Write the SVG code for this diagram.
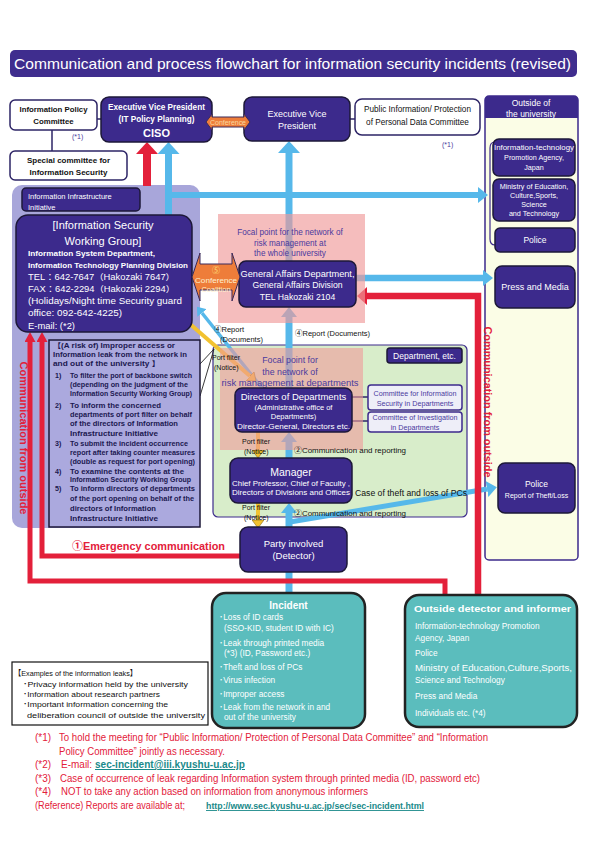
<svg xmlns="http://www.w3.org/2000/svg" width="595" height="842" viewBox="0 0 595 842" font-family="'Liberation Sans','Noto Sans CJK JP',sans-serif">
<style>
.n{fill:#3c2a8c;stroke:#1d1838;stroke-width:1.5}
.wb{fill:#fff;stroke:#2d2466;stroke-width:1.5}
.tl{fill:#5bbdbd;stroke:#222;stroke-width:2.5}
.w{fill:#fff}
.k{fill:#111}
.pu{fill:#4a3a9e}
.r{fill:#e3203a}
.b{font-weight:bold}
.m{text-anchor:middle}
.ln{stroke:#2d2466;stroke-width:1.5;fill:none}
.bl{stroke:#56b8ea;fill:none}
.rd{stroke:#e3203a;fill:none}
.ye{stroke:#f2c230;fill:none;stroke-width:4}
.rk{fill:#1b1850;font-weight:bold;font-size:7.1px}
.og{fill:#ee7d3a;stroke:#3a2a5a;stroke-width:1}
</style>
<defs>
<marker id="hB" viewBox="0 0 12 22" refX="0" refY="11" markerWidth="12" markerHeight="22" markerUnits="userSpaceOnUse" orient="auto"><path d="M0,0 L12,11 L0,22 Z" fill="#56b8ea"/></marker>
<marker id="hR" viewBox="0 0 12 22" refX="0" refY="11" markerWidth="12" markerHeight="22" markerUnits="userSpaceOnUse" orient="auto"><path d="M0,0 L12,11 L0,22 Z" fill="#e3203a"/></marker>
<marker id="hb" viewBox="0 0 10 16" refX="0" refY="8" markerWidth="10" markerHeight="16" markerUnits="userSpaceOnUse" orient="auto"><path d="M0,0 L10,8 L0,16 Z" fill="#56b8ea"/></marker>
<marker id="hbs" viewBox="0 0 8 12" refX="0" refY="6" markerWidth="8" markerHeight="12" markerUnits="userSpaceOnUse" orient="auto"><path d="M0,0 L8,6 L0,12 Z" fill="#56b8ea"/></marker>
<marker id="hr" viewBox="0 0 10 18" refX="0" refY="9" markerWidth="10" markerHeight="18" markerUnits="userSpaceOnUse" orient="auto"><path d="M0,0 L10,9 L0,18 Z" fill="#e3203a"/></marker>
<marker id="hrs" viewBox="0 0 10 11" refX="0" refY="5.5" markerWidth="10" markerHeight="11" markerUnits="userSpaceOnUse" orient="auto"><path d="M0,0 L10,5.5 L0,11 Z" fill="#e3203a"/></marker>
<marker id="hy" viewBox="0 0 8 12" refX="0" refY="6" markerWidth="8" markerHeight="12" markerUnits="userSpaceOnUse" orient="auto"><path d="M0,0 L8,6 L0,12 Z" fill="#f2c230" stroke="#8a6a10" stroke-width="0.6"/></marker>
<clipPath id="rc"><rect x="49" y="340" width="151" height="186"/></clipPath>
</defs>

<!-- title -->
<rect x="10" y="50" width="567" height="27" rx="5" fill="#3f2d8e"/>
<text x="14" y="69" font-size="15" class="w" textLength="557" lengthAdjust="spacingAndGlyphs">Communication and process flowchart for information security incidents (revised)</text>

<!-- regions -->
<g id="region-infra">
<rect x="12" y="185" width="188" height="343" rx="10" fill="#a8a6da"/>
</g>
<g id="region-dept">
<rect x="213" y="345" width="254" height="172" rx="5" fill="#d8edca" stroke="#3c2a8c" stroke-width="1.2"/>
</g>
<g id="region-outside">
<rect x="485" y="96" width="93" height="464" rx="4" fill="#fbfde6" stroke="#3c2a8c" stroke-width="1.5"/>
<path d="M485,118 V100 Q485,96 489,96 H574 Q578,96 578,100 V118 Z" fill="#3c2a8c"/>
<text x="531" y="106" font-size="8.5" class="w m">Outside of</text>
<text x="531" y="116.5" font-size="8.5" class="w m">the university</text>
<path d="M495,142 Q490,142 490,148 L490,239 Q490,245 495,245" stroke="#3c2a8c" stroke-width="1.2" fill="none"/>
</g>

<!-- connectors -->
<g id="connectors">
<path d="M97,119 H101" class="ln"/>
<path d="M52,130 V151" class="ln"/>
<path d="M350,119 H355" class="ln"/>
<path d="M352,397 H368" class="ln"/>
<path d="M352,421 H368" class="ln"/>
<path d="M200,364 L214,349 L200,396" stroke="#222" stroke-width="0.9" fill="none"/>
<path d="M147,186 V154" class="rd" stroke-width="8" marker-end="url(#hR)"/>
<path d="M168.5,215 V154" class="bl" stroke-width="7" marker-end="url(#hB)"/>
<path d="M168,195 H478" class="bl" stroke-width="6" marker-end="url(#hb)"/>
<path d="M289,261 V153" class="bl" stroke-width="7" marker-end="url(#hB)"/>
<path d="M289,388 V317" class="bl" stroke-width="7" marker-end="url(#hb)"/>
<path d="M289,458 V442" class="bl" stroke-width="7" marker-end="url(#hb)"/>
<path d="M289,527 V513" class="bl" stroke-width="7" marker-end="url(#hb)"/>
<path d="M289,593 V572" class="bl" stroke-width="7"/>
<path d="M356,278 H483" class="bl" stroke-width="6.5" marker-end="url(#hb)"/>
<path d="M290,522 L487,489" class="bl" stroke-width="5" marker-end="url(#hb)"/>
<path d="M262,388 L202,313" class="bl" stroke-width="3.5" marker-end="url(#hbs)"/>
<path d="M478,595 V296 H367" class="rd" stroke-width="6.5" marker-end="url(#hr)"/>
<path d="M445,595 V581 H30 V342" class="rd" stroke-width="5" marker-end="url(#hrs)"/>
<path d="M240,556 H42 V342" class="rd" stroke-width="5" marker-end="url(#hrs)"/>
<path d="M183,318 L250,376" class="ye" marker-end="url(#hy)"/>
<path d="M258,432 V450" class="ye" marker-end="url(#hy)"/>
<path d="M258,503 V520" class="ye" marker-end="url(#hy)"/>
</g>

<!-- translucent focal regions -->
<g id="region-focal-univ">
<rect x="218" y="214" width="147" height="109" fill="#f09a9a" fill-opacity="0.65"/>
<text x="290" y="235" font-size="8.2" class="pu m">Focal point for the network of</text>
<text x="290" y="245.5" font-size="8.2" class="pu m">risk management at</text>
<text x="290" y="256" font-size="8.2" class="pu m">the whole university</text>
</g>
<g id="region-focal-dept">
<rect x="220" y="348" width="143" height="102" fill="#f09a9a" fill-opacity="0.6"/>
<text x="290" y="363" font-size="8.8" class="pu m">Focal point for</text>
<text x="290" y="375" font-size="8.8" class="pu m">the network of</text>
<text x="290" y="386" font-size="8.8" class="pu m" textLength="137" lengthAdjust="spacingAndGlyphs">risk management at departments</text>
</g>

<!-- nodes -->
<g id="info-policy-committee">
<rect x="10" y="100" width="87" height="30" rx="5" class="wb"/>
<text x="53.5" y="112" font-size="7.8" class="k b m">Information Policy</text>
<text x="53.5" y="124" font-size="7.8" class="k b m">Committee</text>
<text x="72" y="139" font-size="7" class="pu">(*1)</text>
</g>
<g id="special-committee">
<rect x="10" y="151" width="117" height="29" rx="5" class="wb"/>
<text x="68.5" y="163" font-size="8" class="k b m">Special committee for</text>
<text x="68.5" y="175" font-size="8" class="k b m">Information Security</text>
</g>
<g id="ciso">
<rect x="101" y="97" width="111" height="45" rx="8" class="n"/>
<text x="156.5" y="110" font-size="8.2" class="w b m">Executive Vice President</text>
<text x="156.5" y="122" font-size="8.2" class="w b m">(IT Policy Planning)</text>
<text x="156.5" y="137" font-size="11" class="w b m">CISO</text>
</g>
<g id="evp">
<rect x="244" y="97" width="106" height="44" rx="8" class="n"/>
<text x="297" y="117" font-size="9" class="w m">Executive Vice</text>
<text x="297" y="129" font-size="9" class="w m">President</text>
</g>
<g id="public-info-committee">
<rect x="355" y="99" width="125" height="36" rx="7" class="wb"/>
<text x="417.5" y="112" font-size="8.2" class="k m">Public Information/ Protection</text>
<text x="417.5" y="125" font-size="8.2" class="k m">of Personal Data Committee</text>
<text x="442" y="147" font-size="7" class="pu">(*1)</text>
</g>
<g id="ipa">
<rect x="493" y="139" width="82" height="37" rx="6" class="n"/>
<text x="534" y="150" font-size="7.2" class="w m" textLength="80" lengthAdjust="spacingAndGlyphs">Information-technology</text>
<text x="534" y="160" font-size="7.2" class="w m">Promotion Agency,</text>
<text x="534" y="170" font-size="7.2" class="w m">Japan</text>
</g>
<g id="mext">
<rect x="493" y="179" width="82" height="42" rx="6" class="n"/>
<text x="534" y="189" font-size="7.2" class="w m">Ministry of Education,</text>
<text x="534" y="198" font-size="7.2" class="w m">Culture,Sports,</text>
<text x="534" y="207" font-size="7.2" class="w m">Science</text>
<text x="534" y="216" font-size="7.2" class="w m">and Technology</text>
</g>
<g id="police">
<rect x="495" y="228" width="80" height="24" rx="5" class="n"/>
<text x="535" y="243" font-size="8.5" class="w m">Police</text>
</g>
<g id="press">
<rect x="495" y="266" width="80" height="42" rx="7" class="n"/>
<text x="535" y="290" font-size="9" class="w m">Press and Media</text>
</g>
<g id="police-report">
<rect x="498" y="463" width="77" height="50" rx="7" class="n"/>
<text x="536.5" y="487" font-size="8.5" class="w m">Police</text>
<text x="536.5" y="498" font-size="7" class="w m">Report of Theft/Loss</text>
</g>
<g id="infra-initiative">
<rect x="22" y="188" width="118" height="23" rx="4" class="n"/>
<text x="28" y="199" font-size="7.5" class="w">Information Infrastructure</text>
<text x="28" y="209.5" font-size="7.5" class="w">Initiative</text>
</g>
<g id="iswg">
<rect x="16" y="215" width="176" height="117" rx="12" class="n"/>
<text x="103" y="229" font-size="11" class="w m">[Information Security</text>
<text x="103" y="245" font-size="11" class="w m">Working Group]</text>
<text x="28" y="256" font-size="7.3" class="w b" textLength="127" lengthAdjust="spacingAndGlyphs">Information System Department,</text>
<text x="28" y="268" font-size="7.3" class="w b" textLength="160" lengthAdjust="spacingAndGlyphs">Information Technology Planning Division</text>
<text x="28" y="279.5" font-size="8.5" class="w" textLength="147" lengthAdjust="spacingAndGlyphs">TEL：642-7647（Hakozaki 7647）</text>
<text x="28" y="291.5" font-size="8.5" class="w" textLength="147" lengthAdjust="spacingAndGlyphs">FAX：642-2294（Hakozaki 2294）</text>
<text x="28" y="303.5" font-size="8.5" class="w" textLength="154" lengthAdjust="spacingAndGlyphs">(Holidays/Night time Security guard</text>
<text x="28" y="316" font-size="8.5" class="w" textLength="94" lengthAdjust="spacingAndGlyphs">office: 092-642-4225)</text>
<text x="28" y="329" font-size="8.5" class="w" textLength="47" lengthAdjust="spacingAndGlyphs">E-mail: (*2)</text>
</g>
<g id="risk-box">
<rect x="49" y="340" width="151" height="187" fill="#aba9de" stroke="#1d1838" stroke-width="1.5"/>
<g clip-path="url(#rc)">
<text x="53" y="348" class="rk" textLength="122" lengthAdjust="spacingAndGlyphs">【(A risk of) Improper access or</text>
<text x="53" y="357" class="rk" textLength="134" lengthAdjust="spacingAndGlyphs">Information leak from the network in</text>
<text x="53" y="366" class="rk" textLength="107" lengthAdjust="spacingAndGlyphs">and out of the university 】</text>
<text x="55" y="378" class="rk">1)</text><text x="70" y="378" class="rk" textLength="122" lengthAdjust="spacingAndGlyphs">To filter the port of backbone switch</text>
<text x="70" y="387" class="rk" textLength="118" lengthAdjust="spacingAndGlyphs">(depending on the judgment of the</text>
<text x="70" y="396" class="rk" textLength="122" lengthAdjust="spacingAndGlyphs">Information Security Working Group)</text>
<text x="55" y="408" class="rk">2)</text><text x="70" y="408" class="rk" textLength="91" lengthAdjust="spacingAndGlyphs">To inform the concerned</text>
<text x="70" y="417" class="rk" textLength="122" lengthAdjust="spacingAndGlyphs">departments of port filter on behalf</text>
<text x="70" y="426" class="rk" textLength="108" lengthAdjust="spacingAndGlyphs">of the directors of Information</text>
<text x="70" y="436" class="rk" textLength="88" lengthAdjust="spacingAndGlyphs">Infrastructure Initiative</text>
<text x="55" y="446" class="rk">3)</text><text x="70" y="446" class="rk" textLength="118" lengthAdjust="spacingAndGlyphs">To submit the incident occurrence</text>
<text x="70" y="455" class="rk" textLength="125" lengthAdjust="spacingAndGlyphs">report after taking counter measures</text>
<text x="70" y="464" class="rk" textLength="125" lengthAdjust="spacingAndGlyphs">(double as request for port opening)</text>
<text x="55" y="474" class="rk">4)</text><text x="70" y="474" class="rk" textLength="114" lengthAdjust="spacingAndGlyphs">To examine the contents at the</text>
<text x="70" y="482" class="rk" textLength="121" lengthAdjust="spacingAndGlyphs">Information Security Working Group</text>
<text x="55" y="491" class="rk">5)</text><text x="70" y="491" class="rk" textLength="125" lengthAdjust="spacingAndGlyphs">To inform directors of departments</text>
<text x="70" y="501" class="rk" textLength="124" lengthAdjust="spacingAndGlyphs">of the port opening on behalf of the</text>
<text x="70" y="511" class="rk" textLength="86" lengthAdjust="spacingAndGlyphs">directors of Information</text>
<text x="70" y="521" class="rk" textLength="88" lengthAdjust="spacingAndGlyphs">Infrastructure Initiative</text>
</g>
</g>
<g id="general-affairs">
<rect x="239" y="261" width="117" height="46" rx="7" class="n"/>
<text x="297.5" y="276.5" font-size="8.7" class="w m" textLength="114" lengthAdjust="spacingAndGlyphs">General Affairs Department,</text>
<text x="297.5" y="288" font-size="8.7" class="w m">General Affairs Division</text>
<text x="297.5" y="299.5" font-size="8.7" class="w m">TEL Hakozaki 2104</text>
</g>
<g id="dept-label">
<rect x="387" y="348" width="75" height="15" rx="3" class="n"/>
<text x="424.5" y="359" font-size="8.5" class="w m">Department, etc.</text>
</g>
<g id="directors">
<rect x="235" y="388" width="117" height="44" rx="7" class="n"/>
<text x="293.5" y="399.5" font-size="9.5" class="w m">Directors of Departments</text>
<text x="293.5" y="409.5" font-size="7.5" class="w m">(Administrative office of</text>
<text x="293.5" y="419" font-size="7.5" class="w m">Departments)</text>
<text x="293.5" y="428.5" font-size="7.3" class="w m" textLength="113" lengthAdjust="spacingAndGlyphs">Director-General, Directors etc.</text>
</g>
<g id="committee-dept-security">
<rect x="368" y="385" width="94" height="25" rx="3" fill="#eeeef8" stroke="#3c2a8c" stroke-width="1.5"/>
<text x="415" y="396" font-size="7.2" class="pu m">Committee for Information</text>
<text x="415" y="406" font-size="7.2" class="pu m">Security in Departments</text>
</g>
<g id="committee-investigation">
<rect x="368" y="412" width="94" height="20" rx="3" fill="#eeeef8" stroke="#3c2a8c" stroke-width="1.5"/>
<text x="415" y="420" font-size="7.2" class="pu m">Committee of Investigation</text>
<text x="415" y="430" font-size="7.2" class="pu m">in Departments</text>
</g>
<g id="manager">
<rect x="230" y="458" width="122" height="45" rx="8" class="n"/>
<text x="291" y="476" font-size="10.5" class="w m">Manager</text>
<text x="291" y="486" font-size="7.5" class="w m" textLength="118" lengthAdjust="spacingAndGlyphs">Chief Professor, Chief of Faculty ,</text>
<text x="291" y="494.5" font-size="7.5" class="w m" textLength="118" lengthAdjust="spacingAndGlyphs">Directors of Divisions and Offices</text>
</g>
<g id="party">
<rect x="240" y="527" width="107" height="45" rx="8" class="n"/>
<text x="293.5" y="547" font-size="9.5" class="w m">Party involved</text>
<text x="293.5" y="559" font-size="9.5" class="w m">(Detector)</text>
</g>
<g id="incident">
<rect x="212" y="593" width="153" height="135" rx="14" class="tl"/>
<text x="288.5" y="609" font-size="10" class="w b m">Incident</text>
<text x="219" y="620" font-size="8.3" class="w">･Loss of ID cards</text>
<text x="224" y="631" font-size="8.3" class="w">(SSO-KID, student ID with IC)</text>
<text x="219" y="646" font-size="8.3" class="w">･Leak through printed media</text>
<text x="224" y="656" font-size="8.3" class="w">(*3) (ID, Password etc.)</text>
<text x="219" y="670" font-size="8.3" class="w">･Theft and loss of PCs</text>
<text x="219" y="683" font-size="8.3" class="w">･Virus infection</text>
<text x="219" y="697" font-size="8.3" class="w">･Improper access</text>
<text x="219" y="710" font-size="8.3" class="w">･Leak from the network in and</text>
<text x="224" y="720" font-size="8.3" class="w">out of the university</text>
</g>
<g id="outside-detector">
<rect x="405" y="595" width="172" height="132" rx="14" class="tl"/>
<text x="414" y="612" font-size="9.3" class="w b" textLength="157" lengthAdjust="spacingAndGlyphs">Outside detector and informer</text>
<text x="415" y="629" font-size="8.3" class="w">Information-technology Promotion</text>
<text x="415" y="641" font-size="8.3" class="w">Agency, Japan</text>
<text x="415" y="656" font-size="8.3" class="w">Police</text>
<text x="415" y="671" font-size="8.3" class="w" textLength="157" lengthAdjust="spacingAndGlyphs">Ministry of Education,Culture,Sports,</text>
<text x="415" y="683" font-size="8.3" class="w">Science and Technology</text>
<text x="415" y="699" font-size="8.3" class="w">Press and Media</text>
<text x="415" y="716" font-size="8.3" class="w">Individuals etc. (*4)</text>
</g>
<g id="examples">
<rect x="12" y="662" width="196" height="63" fill="#fff" stroke="#111" stroke-width="1.2"/>
<text x="14" y="676" font-size="8" class="k" textLength="123" lengthAdjust="spacingAndGlyphs">【Examples of the information leaks】</text>
<text x="23" y="687" font-size="8" class="k" textLength="165" lengthAdjust="spacingAndGlyphs">･Privacy information held by the university</text>
<text x="23" y="697" font-size="8" class="k" textLength="137" lengthAdjust="spacingAndGlyphs">･Information about research partners</text>
<text x="23" y="707" font-size="8" class="k" textLength="145" lengthAdjust="spacingAndGlyphs">･Important information concerning the</text>
<text x="27" y="718" font-size="8" class="k" textLength="178" lengthAdjust="spacingAndGlyphs">deliberation council of outside the university</text>
</g>

<!-- conference links (drawn above the nodes they join) -->
<g id="connectors-conference">
<polygon points="206,122 212,114 212,117 244,117 244,114 250,122 244,130 244,127 212,127 212,130" class="og"/>
<text x="228" y="125" font-size="7" class="m" fill="#f8d9a0" textLength="36" lengthAdjust="spacingAndGlyphs">Conference</text>
<polygon points="192,277 200,253 200,264 232,264 232,253 240,277 232,301 232,290 200,290 200,301" class="og"/>
<text x="216" y="273" font-size="8" class="m" fill="#ffe27a">⑤</text>
<text x="216" y="283" font-size="7.5" class="m" fill="#fff1d0" textLength="42" lengthAdjust="spacingAndGlyphs">Conference</text>
<text x="216" y="292" font-size="7.5" class="m" fill="#fff1d0">Coalition</text>
</g>

<!-- connector labels -->
<g id="labels">
<text x="20" y="438" font-size="10.5" class="r b m" transform="rotate(90 20 438)" textLength="153" lengthAdjust="spacingAndGlyphs">Communication from outside</text>
<text x="484" y="402" font-size="10.5" class="r b m" transform="rotate(90 484 402)" textLength="151" lengthAdjust="spacingAndGlyphs">Communication from outside</text>
<text x="72" y="550" font-size="11" class="r b" textLength="153" lengthAdjust="spacingAndGlyphs">①Emergency communication</text>
<text x="214" y="332" font-size="7.5" class="k">④Report</text>
<text x="220" y="342" font-size="7.5" class="k">(Documents)</text>
<text x="295" y="336" font-size="7.5" class="k">④Report (Documents)</text>
<text x="212" y="360" font-size="7" class="k">Port filter</text>
<text x="214" y="370" font-size="7" class="k">(Notice)</text>
<text x="242" y="444" font-size="7" class="k">Port filter</text>
<text x="244" y="454" font-size="7" class="k">(Notice)</text>
<text x="242" y="510" font-size="7" class="k">Port filter</text>
<text x="244" y="520" font-size="7" class="k">(Notice)</text>
<text x="294" y="452.5" font-size="7.5" class="k" textLength="112" lengthAdjust="spacingAndGlyphs">②Communication and reporting</text>
<text x="294" y="515.5" font-size="7.5" class="k" textLength="112" lengthAdjust="spacingAndGlyphs">②Communication and reporting</text>
<text x="355" y="496" font-size="8.5" class="k" textLength="112" lengthAdjust="spacingAndGlyphs">Case of theft and loss of PCs</text>
</g>

<!-- footnotes -->
<g id="footnotes" font-size="10">
<text x="35" y="741" class="r">(*1)</text>
<text x="59" y="741" class="r" textLength="429" lengthAdjust="spacingAndGlyphs">To hold the meeting for “Public Information/ Protection of Personal Data Committee” and “Information</text>
<text x="59" y="755" class="r" textLength="166" lengthAdjust="spacingAndGlyphs">Policy Committee” jointly as necessary.</text>
<text x="35" y="768" class="r">(*2)</text>
<text x="61" y="768" class="r">E-mail:</text>
<text x="95" y="768" fill="#1a8a8a" font-weight="bold" text-decoration="underline" textLength="150" lengthAdjust="spacingAndGlyphs">sec-incident@iii.kyushu-u.ac.jp</text>
<text x="35" y="782" class="r">(*3)</text>
<text x="60" y="782" class="r" textLength="420" lengthAdjust="spacingAndGlyphs">Case of occurrence of leak regarding Information system through printed media (ID, password etc)</text>
<text x="35" y="795" class="r">(*4)</text>
<text x="61" y="795" class="r" textLength="307" lengthAdjust="spacingAndGlyphs">NOT to take any action based on information from anonymous informers</text>
<text x="35" y="809" class="r" textLength="150" lengthAdjust="spacingAndGlyphs">(Reference) Reports are available at;</text>
<text x="206" y="809" fill="#1a8a8a" font-weight="bold" font-size="9" text-decoration="underline" textLength="218" lengthAdjust="spacingAndGlyphs">http://www.sec.kyushu-u.ac.jp/sec/sec-incident.html</text>
</g>
</svg>
